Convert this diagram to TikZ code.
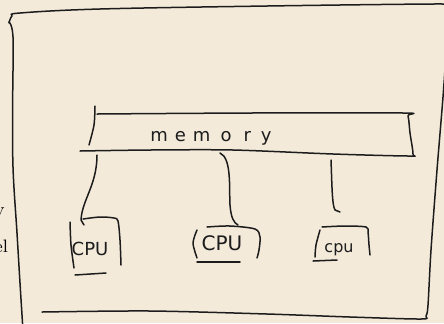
\documentclass[tikz,border=0pt]{standalone}
\usepackage{fontspec}
\newfontfamily\handfont{DejaVu Sans}
\definecolor{paper}{RGB}{243,234,218}
\definecolor{ink}{RGB}{28,28,28}
\begin{document}
\begin{tikzpicture}[x=0.5pt,y=-0.5pt,
  stroke/.style={draw=ink, line width=0.75pt, line cap=round, line join=round},
  hand/.style={font=\handfont\fontsize{9}{10}\selectfont, text=ink, inner sep=0pt},
  slide/.style={font=\fontsize{9}{10}\selectfont, text=black, inner sep=0pt}]
\fill[paper] (0,0) rectangle (444,323);
\useasboundingbox (0,0) rectangle (444,323);

% cut-off slide text at the left
\node[slide, anchor=base east] (sv) at (5,215) {v};
\node[slide, anchor=base east] (sel) at (8.5,252) {el};

% outer frame
\draw[stroke] plot[smooth, tension=0.6] coordinates {(9,23) (12,16) (20,13) (100,9) (267,6) (433,4) (447,5)};
\draw[stroke] plot[smooth, tension=0.6] coordinates {(9,22) (13,37) (12.7,100) (13,167) (17,233) (20,283) (22.7,326)};
\draw[stroke] plot[smooth, tension=0.5] coordinates {(42,312) (150,311) (267,314) (350,317) (421,319) (426,316) (428,305) (431,250) (437,170) (443,97) (447,40)};

% memory box
\draw[stroke] plot[smooth] coordinates {(95,106) (94,125) (89,145)};
\draw[stroke] plot[smooth, tension=0.5] coordinates {(97,114) (250,113) (403,113) (408,116) (410,133) (413,154) (409,156) (333,154) (233,150) (150,150) (80,151)};
\node[hand, anchor=base west] (mem) at (150,141) {m\hspace{3.5pt}e\hspace{3.5pt}m\hspace{5pt}o\hspace{6pt}r\hspace{5pt}y};

% CPU boxes
\draw[stroke] plot[smooth] coordinates {(70,222) (71,245) (74,268)};
\draw[stroke] plot[smooth, tension=0.5] coordinates {(83,219) (100,217) (114,218) (118,221) (120,240) (121,265)};
\draw[stroke] (75,275) -- (106,273);
\node[hand] (c1) at (90,249) {CPU};

\draw[stroke] plot[smooth] coordinates {(197,230) (193,243) (197,258)};
\draw[stroke] plot[smooth, tension=0.5] coordinates {(207,227) (230,226) (255,229) (260,237) (259,250) (257,258)};
\draw[stroke] (197,262) -- (240,262);
\node[hand, font=\handfont\fontsize{10}{11}\selectfont] (c2) at (222,243) {CPU};

\draw[stroke] plot[smooth] coordinates {(320,230) (316,245) (315,257)};
\draw[stroke] plot[smooth, tension=0.5] coordinates {(322,227) (345,226) (366,227) (368,232) (369,245) (370,255)};
\draw[stroke] (313,261) -- (337,260);
\node[hand, font=\handfont\fontsize{8}{9}\selectfont] (c3) at (339,250) {cpu};

% connectors
\coordinate (m1) at (97,155);
\coordinate (p1) at (84,225);
\coordinate (m2) at (220,153);
\coordinate (p2) at (238,225);
\coordinate (m3) at (331,160);
\coordinate (p3) at (340,212);
\draw[stroke] (m1) .. controls (97,185) and (82,200) .. (81,220) -- (p1);
\draw[stroke] (m2) .. controls (232,158) and (229,190) .. (230,205) .. controls (231,218) and (234,223) .. (p2);
\draw[stroke] (m3) .. controls (332,185) and (332,205) .. (335,210) -- (p3);
\end{tikzpicture}
\end{document}
